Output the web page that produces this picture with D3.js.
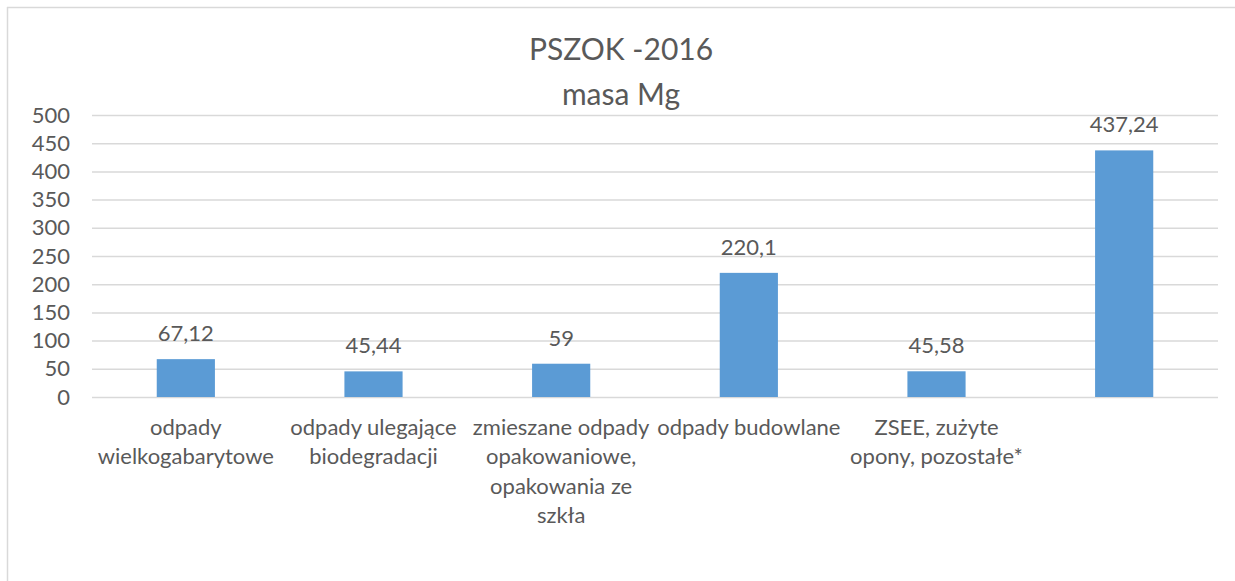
<!DOCTYPE html>
<html>
<head>
<meta charset="utf-8">
<script src="https://cdn.jsdelivr.net/npm/d3@7"></script>
<style>
  html, body { margin: 0; padding: 0; background: #fff; }
  svg { display: block; font-family: Lato, "Open Sans", sans-serif; }
</style>
</head>
<body>
<svg id="chart" width="1235" height="581"></svg>
<script>
// chart data
const categories = ["c1", "c2", "c3", "c4", "c5", "c6"];
const categoryLabels = [
  ["odpady", "wielkogabarytowe"],
  ["odpady ulegające", "biodegradacji"],
  ["zmieszane odpady", "opakowaniowe,", "opakowania ze", "szkła"],
  ["odpady budowlane"],
  ["ZSEE, zużyte", "opony, pozostałe*"],
  []
];
const values = [67.12, 45.44, 59, 220.1, 45.58, 437.24];
const valueLabels = ["67,12", "45,44", "59", "220,1", "45,58", "437,24"];
const yTicks = [0, 50, 100, 150, 200, 250, 300, 350, 400, 450, 500];
const titleLines = ["PSZOK -2016", "masa Mg"];

const svg = d3.select("#chart");
const textColor = "#595959";
const gridColor = "#d9d9d9";

// outer frame (only top and left edges are visible)
svg.append("line").attr("x1", 7).attr("x2", 1235).attr("y1", 7.5).attr("y2", 7.5)
  .attr("stroke", gridColor).attr("stroke-width", 1.5);
svg.append("line").attr("x1", 7.5).attr("x2", 7.5).attr("y1", 7).attr("y2", 581)
  .attr("stroke", gridColor).attr("stroke-width", 1.5);

const plotLeft = 92, plotRight = 1218, plotTop = 115, plotBottom = 397;

const x = d3.scaleBand()
  .domain(categories)
  .range([plotLeft, plotRight])
  .paddingInner(0.69)
  .paddingOuter(0.345);

const y = d3.scaleLinear()
  .domain([0, 500])
  .range([plotBottom, plotTop]);

// title
svg.append("g").selectAll("text")
  .data(titleLines)
  .join("text")
  .attr("x", 621)
  .attr("y", (d, i) => 60 + i * 44.5)
  .attr("text-anchor", "middle")
  .attr("fill", textColor)
  .style("font-size", "30px")
  .text(d => d);

// y axis with gridlines
const yAxis = svg.append("g")
  .attr("transform", `translate(${plotLeft},0)`)
  .call(d3.axisLeft(y).tickValues(yTicks).tickSize(-(plotRight - plotLeft)).tickPadding(22));
yAxis.select(".domain").remove();
yAxis.selectAll(".tick line").attr("stroke", gridColor).attr("stroke-width", 1.5);
yAxis.selectAll(".tick text")
  .attr("fill", textColor)
  .style("font-size", "22px")
  .style("font-family", "Lato, sans-serif");

// bars
svg.append("g").selectAll("rect")
  .data(values)
  .join("rect")
  .attr("x", (d, i) => x(categories[i]))
  .attr("width", x.bandwidth())
  .attr("y", d => y(d))
  .attr("height", d => y(0) - y(d))
  .attr("fill", "#5b9bd5");

// value labels
svg.append("g").selectAll("text")
  .data(values)
  .join("text")
  .attr("x", (d, i) => x(categories[i]) + x.bandwidth() / 2)
  .attr("y", d => y(d) - 18)
  .attr("text-anchor", "middle")
  .attr("fill", textColor)
  .style("font-size", "22px")
  .text((d, i) => valueLabels[i]);

// category labels
const catG = svg.append("g").selectAll("text")
  .data(categoryLabels)
  .join("text")
  .attr("text-anchor", "middle")
  .attr("fill", textColor)
  .style("font-size", "22px");
catG.each(function(lines, i) {
  const cx = x(categories[i]) + x.bandwidth() / 2;
  d3.select(this).selectAll("tspan")
    .data(lines)
    .join("tspan")
    .attr("x", cx)
    .attr("y", (d, j) => 435 + j * 29.3)
    .text(d => d);
});
</script>
</body>
</html>
